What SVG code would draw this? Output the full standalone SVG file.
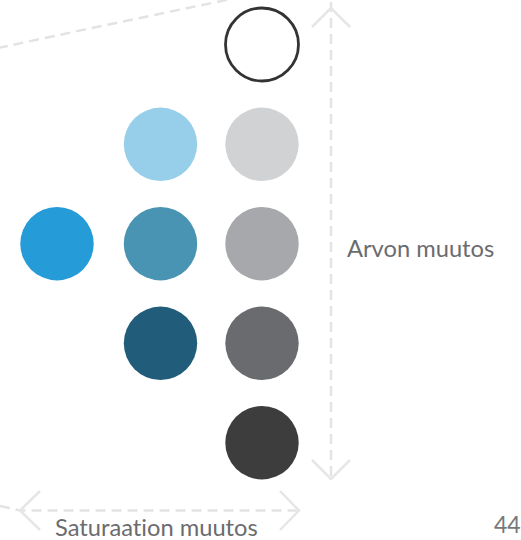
<svg xmlns="http://www.w3.org/2000/svg" width="521" height="540" viewBox="0 0 521 540">
<style>
.dash{fill:none;stroke:#e3e3e4;stroke-width:2.5;stroke-dasharray:10 6}
.chev{fill:none;stroke:#e6e6e7;stroke-width:2.5}
.lbl{font-family:Lato,"Open Sans","Liberation Sans",sans-serif;font-size:23.7px;fill:#6b6c6f;font-variant-ligatures:none}
</style>
<rect width="521" height="540" fill="#ffffff"/>
<g id="connectors">
<path class="dash" d="M-2,48 Q110,24 236,-2"/>
<path class="dash" d="M331,2 V478"/>
<path class="chev" d="M312,27 L331,8 L350,27"/>
<path class="chev" d="M312,460 L331,479 L350,460"/>
<path class="dash" d="M0,506 L20,510.5 H298"/>
<path class="chev" d="M40,491 L20,510.5 L40,530"/>
<path class="chev" d="M280,491 L299,510.5 L280,530"/>
</g>
<g id="c-white"><circle cx="262" cy="44.5" r="36.5" fill="#ffffff" stroke="#333333" stroke-width="2.8"/></g>
<g id="c-lightblue"><circle cx="160.5" cy="144.3" r="36.7" fill="#97cfea"/></g>
<g id="c-lightgray"><circle cx="262" cy="144.3" r="36.7" fill="#d1d2d4"/></g>
<g id="c-blue"><circle cx="57" cy="243.7" r="36.7" fill="#259bd7"/></g>
<g id="c-midblue"><circle cx="160.5" cy="243.7" r="36.7" fill="#4993b3"/></g>
<g id="c-midgray"><circle cx="262" cy="243.7" r="36.7" fill="#a7a8ac"/></g>
<g id="c-darkblue"><circle cx="160.5" cy="343.3" r="36.7" fill="#215d7a"/></g>
<g id="c-darkgray"><circle cx="262" cy="343.3" r="36.7" fill="#6a6b6f"/></g>
<g id="c-black"><circle cx="262" cy="442.7" r="36.7" fill="#3d3d3d"/></g>
<g id="labels">
<text class="lbl" x="347" y="257">Arvon muutos</text>
<text class="lbl" x="55" y="536">Saturaation muutos</text>
<text class="lbl" x="494" y="533" style="font-size:23px;fill:#77787b">44</text>
</g>
</svg>
